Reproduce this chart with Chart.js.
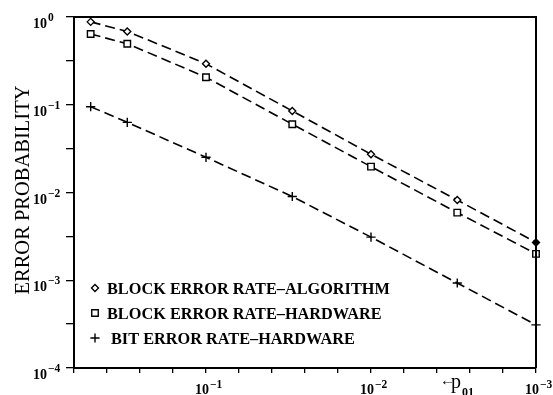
<!DOCTYPE html>
<html>
<head>
<meta charset="utf-8">
<script src="https://cdn.jsdelivr.net/npm/chart.js@4/dist/chart.umd.min.js"></script>
<style>
  html, body { margin: 0; padding: 0; background: #fff; }
  #wrap { width: 553px; height: 395px; position: relative; }
</style>
</head>
<body>
<div id="wrap"><canvas id="c" width="553" height="395"></canvas></div>
<script>
// Crossover probability p01 (x) and measured error rates (y)
const crossoverProb     = [0.5, 0.3, 0.1, 0.03, 0.01, 0.003, 0.001];
const blockErrAlgorithm = [0.88, 0.685, 0.293, 0.085, 0.0273, 0.0082, 0.0027];
const blockErrHardware  = [0.64, 0.496, 0.206, 0.060, 0.0197, 0.0059, 0.0020];
const bitErrHardware    = [0.095, 0.063, 0.0252, 0.0090, 0.0031, 0.00093, 0.00031];

const seriesNames  = ['BLOCK ERROR RATE\u2013ALGORITHM', 'BLOCK ERROR RATE\u2013HARDWARE', 'BIT ERROR RATE\u2013HARDWARE'];
const seriesMarks  = ['rectRot', 'rect', 'cross'];
const yTickExps    = [0, -1, -2, -3, -4];
const xTickExps    = [-1, -2, -3];
const yAxisTitle   = 'ERROR PROBABILITY';
const xAxisSymbol  = 'p';
const xAxisSub     = '01';

const SERIF = '"Liberation Serif", "DejaVu Serif", serif';

function toPoints(ys) {
  return crossoverProb.map((x, i) => ({ x: x, y: ys[i] }));
}

function lineSet(label, ys, mark, radius, lastFilled) {
  return {
    label: label,
    data: toPoints(ys),
    showLine: true,
    borderColor: '#000',
    borderWidth: 1.6,
    borderDash: [10, 5],
    pointStyle: mark,
    pointRadius: radius,
    pointBorderWidth: 1.4,
    pointBorderColor: '#000',
    pointBackgroundColor: ctx => (lastFilled && ctx.dataIndex === ys.length - 1) ? '#000' : '#fff',
    clip: false
  };
}

// "10" with a raised exponent
function drawPower(ctx, exp, x, baseY, expY, baseSize, expSize) {
  ctx.textAlign = 'left';
  ctx.textBaseline = 'alphabetic';
  ctx.font = 'bold ' + baseSize + 'px ' + SERIF;
  ctx.fillText('10', x, baseY);
  const w = ctx.measureText('10').width;
  ctx.font = 'bold ' + expSize + 'px ' + SERIF;
  const e = exp < 0 ? '\u2212' + Math.abs(exp) : String(exp);
  ctx.fillText(e, x + w + 1, expY);
}

const decor = {
  id: 'decor',
  afterDraw(chart) {
    const ctx = chart.ctx;
    const a = chart.chartArea;
    const xs = chart.scales.x, ys = chart.scales.y;
    ctx.save();
    ctx.fillStyle = '#000';
    ctx.strokeStyle = '#000';

    // top and right frame lines
    ctx.lineWidth = 2;
    ctx.beginPath();
    ctx.moveTo(a.left, a.top);
    ctx.lineTo(a.right, a.top);
    ctx.lineTo(a.right, a.bottom);
    ctx.stroke();

    // y tick labels
    yTickExps.forEach(k => {
      const py = ys.getPixelForValue(Math.pow(10, k));
      drawPower(ctx, k, 33, py + 11, py + 4, 14, 11.5);
    });

    // x tick labels
    xTickExps.forEach(k => {
      const px = xs.getPixelForValue(Math.pow(10, k));
      drawPower(ctx, k, px - 11, 394, 388, 14, 11.5);
    });

    // x axis symbol: arrow, p, subscript 01
    ctx.textAlign = 'left';
    ctx.textBaseline = 'middle';
    ctx.font = '15px ' + SERIF;
    ctx.fillText('\u2190', 440, 381);
    ctx.textBaseline = 'alphabetic';
    ctx.font = '20px ' + SERIF;
    ctx.fillText(xAxisSymbol, 451, 388);
    const pw = ctx.measureText(xAxisSymbol).width;
    ctx.font = 'bold 12px ' + SERIF;
    ctx.fillText(xAxisSub, 451 + pw + 1, 396);

    // y axis title
    ctx.save();
    ctx.translate(24, 190);
    ctx.rotate(-Math.PI / 2);
    ctx.textAlign = 'center';
    ctx.textBaseline = 'middle';
    ctx.font = '20.5px ' + SERIF;
    ctx.fillText(yAxisTitle, 0, 0);
    ctx.restore();

    // legend
    const rows = [288, 313, 338];
    const radii = [3.5, 4.6, 4.6];
    seriesNames.forEach((name, i) => {
      const y = rows[i];
      ctx.lineWidth = 1.4;
      ctx.fillStyle = '#fff';
      Chart.helpers.drawPoint(ctx, { pointStyle: seriesMarks[i], radius: radii[i], rotation: 0, borderWidth: 1.4 }, 95, y);
      ctx.fillStyle = '#000';
      ctx.font = 'bold 16.3px ' + SERIF;
      ctx.textAlign = 'left';
      ctx.textBaseline = 'alphabetic';
      ctx.fillText(name, i === 2 ? 111 : 107, y + 6);
    });
    ctx.restore();
  }
};

const xTickValues = [];
for (let k = 0; k <= 14; k++) xTickValues.push(Math.pow(10, -0.2 - 0.2 * k));
const yTickValues = [];
for (let k = 0; k <= 8; k++) yTickValues.push(Math.pow(10, -0.5 * k));

new Chart(document.getElementById('c'), {
  type: 'scatter',
  data: {
    datasets: [
      lineSet(seriesNames[0], blockErrAlgorithm, seriesMarks[0], 3.5, true),
      lineSet(seriesNames[1], blockErrHardware, seriesMarks[1], 4.6, false),
      lineSet(seriesNames[2], bitErrHardware, seriesMarks[2], 4.6, false)
    ]
  },
  options: {
    responsive: false,
    animation: false,
    devicePixelRatio: 1,
    layout: { padding: { left: 0, top: 17, right: 17, bottom: 0 } },
    plugins: { legend: { display: false }, tooltip: { enabled: false } },
    scales: {
      x: {
        type: 'logarithmic',
        reverse: true,
        min: 1e-3,
        max: Math.pow(10, -0.2),
        afterBuildTicks: s => { s.ticks = xTickValues.map(v => ({ value: v })); },
        afterFit: s => { s.height = 27; },
        ticks: { display: false },
        grid: { drawOnChartArea: false, drawTicks: true, tickLength: 5, color: '#000', lineWidth: 1.3 },
        border: { display: true, color: '#000', width: 2 }
      },
      y: {
        type: 'logarithmic',
        min: 1e-4,
        max: 1,
        afterBuildTicks: s => { s.ticks = yTickValues.map(v => ({ value: v })); },
        afterFit: s => { s.width = 74; },
        ticks: { display: false },
        grid: { drawOnChartArea: false, drawTicks: true, tickLength: 8, color: '#000', lineWidth: 1.3 },
        border: { display: true, color: '#000', width: 2 }
      }
    }
  },
  plugins: [decor]
});
</script>
</body>
</html>
